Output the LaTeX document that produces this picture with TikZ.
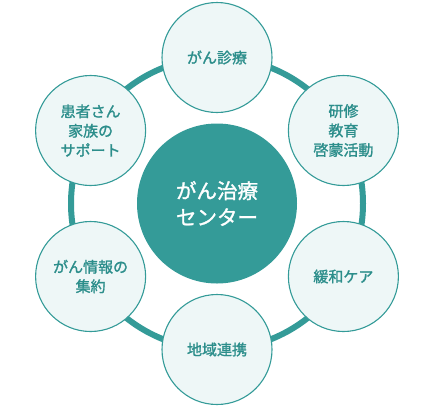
\documentclass[tikz,border=0pt]{standalone}
\usepackage{fontspec}
\newfontfamily\cjkmed[FakeBold=1.4]{Noto Sans CJK JP}
\definecolor{teal1}{HTML}{349B98}
\definecolor{tealtext}{HTML}{2C8E8B}
\definecolor{lightfill}{HTML}{EEF7F7}
\tikzset{
  sat/.style={circle, draw=teal1, line width=1.1pt, fill=lightfill, minimum size=110pt, inner sep=0pt,
    align=center, text=tealtext, font=\cjkmed\fontsize{15}{19.5}\selectfont},
  hub/.style={circle, fill=teal1, minimum size=160pt, inner sep=0pt, align=center, text=white,
    font=\cjkmed\fontsize{20.5}{26.5}\selectfont},
  ring/.style={draw=teal1, line width=6pt}
}
\begin{document}
\begin{tikzpicture}[x=1pt,y=-1pt]
\useasboundingbox (0,0) rectangle (436,408);
\coordinate (c) at (217,203.5);
\draw[ring] (c) circle (146);
\node[hub] (hub) at (c) {がん治療\\センター};
\node[sat] (s1) at (217,57.5) {がん診療};
\node[sat] (s2) at (343.4,130.5) {研修\\教育\\啓蒙活動};
\node[sat] (s3) at (343.4,276.5) {緩和ケア};
\node[sat] (s4) at (217,349.5) {地域連携};
\node[sat] (s5) at (90.6,276.5) {がん情報の\\集約};
\node[sat] (s6) at (90.6,130.5) {患者さん\\家族の\\サポート};
\end{tikzpicture}
\end{document}
